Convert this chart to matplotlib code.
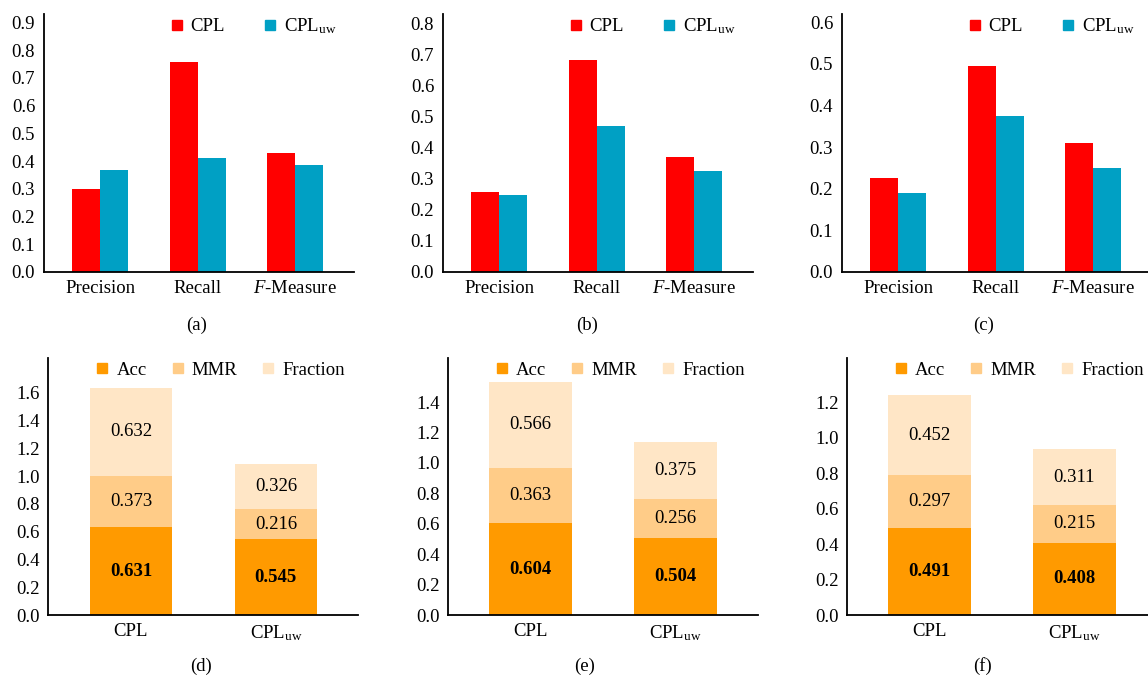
import numpy as np
import matplotlib
matplotlib.use("Agg")
from matplotlib import pyplot as plt
from matplotlib.lines import Line2D

plt.rcParams["font.family"] = ["Liberation Serif", "DejaVu Serif"]
plt.rcParams["mathtext.fontset"] = "custom"
plt.rcParams["mathtext.rm"] = "Liberation Serif"
plt.rcParams["mathtext.it"] = "Liberation Serif:italic"
plt.rcParams["font.size"] = 13.5

# Top row: retrieval metrics per dataset
METRICS = ["Precision", "Recall", "$F$-Measure"]
CPL_A = [0.30, 0.757, 0.428]
CPLUW_A = [0.366, 0.41, 0.386]
CPL_B = [0.256, 0.682, 0.371]
CPLUW_B = [0.248, 0.470, 0.325]
CPL_C = [0.227, 0.496, 0.310]
CPLUW_C = [0.190, 0.376, 0.251]

# Bottom row: stacked scores per method
METHODS = ["CPL", "CPL$_{\\rm uw}$"]
ACC_D = [0.631, 0.545]
MMR_D = [0.373, 0.216]
FRAC_D = [0.632, 0.326]
ACC_E = [0.604, 0.504]
MMR_E = [0.363, 0.256]
FRAC_E = [0.566, 0.375]
ACC_F = [0.491, 0.408]
MMR_F = [0.297, 0.215]
FRAC_F = [0.452, 0.311]

RED = "#FF0000"
CYAN = "#00A0C4"
ACC_C = "#FF9A00"
MMR_C = "#FFCC88"
FRAC_C = "#FFE6C6"

W, H = 1148, 679
fig = plt.figure(figsize=(W / 100, H / 100), dpi=100)


def px_axes(left, top, width, height):
    return fig.add_axes([left / W, 1 - (top + height) / H, width / W, height / H])


def style(ax):
    for s in ["top", "right"]:
        ax.spines[s].set_visible(False)
    for s in ["left", "bottom"]:
        ax.spines[s].set_linewidth(1.3)
    ax.tick_params(length=0, pad=6, labelsize=13.5)
    ax.yaxis.set_major_formatter(matplotlib.ticker.FormatStrFormatter("%.1f"))


def metric_panel(left, cpl, cpluw, ymax, ytop):
    ax = px_axes(left, 14, 310, 258)
    x = np.arange(len(METRICS))
    bw = 0.287
    ax.bar(x - bw / 2, cpl, bw, color=RED)
    ax.bar(x + bw / 2, cpluw, bw, color=CYAN)
    ax.set_xlim(-0.58, 2.6)
    ax.set_ylim(0, ymax)
    ax.set_yticks(np.arange(0, ytop + 0.001, 0.1))
    ax.set_xticks(x)
    ax.set_xticklabels(METRICS)
    style(ax)
    handles = [Line2D([], [], ls="", marker="s", ms=7, color=RED),
               Line2D([], [], ls="", marker="s", ms=7, color=CYAN)]
    ax.legend(handles, ["CPL", "CPL$_{\\rm uw}$"], ncol=2, frameon=False,
              loc="center left", bbox_to_anchor=(0.375, 0.953), borderpad=0,
              handlelength=0.8, handletextpad=0.35, columnspacing=2.0,
              fontsize=13.5)
    return ax


def stack_panel(left, acc, mmr, frac, ymax, ytop):
    ax = px_axes(left, 358, 310, 257)
    x = np.arange(len(METHODS))
    bw = 0.57
    acc = np.array(acc)
    mmr = np.array(mmr)
    frac = np.array(frac)
    ax.bar(x, acc, bw, color=ACC_C)
    ax.bar(x, mmr, bw, bottom=acc, color=MMR_C)
    ax.bar(x, frac, bw, bottom=acc + mmr, color=FRAC_C)
    for i in x:
        ax.text(i, acc[i] / 2, f"{acc[i]:.3f}", ha="center", va="center",
                fontweight="bold", fontsize=13.5)
        ax.text(i, acc[i] + mmr[i] / 2, f"{mmr[i]:.3f}", ha="center",
                va="center", fontsize=13.5)
        ax.text(i, acc[i] + mmr[i] + frac[i] / 2, f"{frac[i]:.3f}",
                ha="center", va="center", fontsize=13.5)
    ax.set_xlim(-0.57, 1.57)
    ax.set_ylim(0, ymax)
    ax.set_yticks(np.arange(0, ytop + 0.001, 0.2))
    ax.set_xticks(x)
    ax.set_xticklabels(METHODS)
    style(ax)
    handles = [Line2D([], [], ls="", marker="s", ms=7, color=c)
               for c in (ACC_C, MMR_C, FRAC_C)]
    ax.legend(handles, ["Acc", "MMR", "Fraction"], ncol=3, frameon=False,
              loc="center left", bbox_to_anchor=(0.12, 0.953), borderpad=0,
              handlelength=0.8, handletextpad=0.35, columnspacing=1.25,
              fontsize=13.5)
    return ax


metric_panel(43.5, CPL_A, CPLUW_A, 0.93, 0.9)
metric_panel(442.5, CPL_B, CPLUW_B, 0.83, 0.8)
metric_panel(841.5, CPL_C, CPLUW_C, 0.62, 0.6)

stack_panel(48.4, ACC_D, MMR_D, FRAC_D, 1.85, 1.6)
stack_panel(448, ACC_E, MMR_E, FRAC_E, 1.69, 1.4)
stack_panel(847, ACC_F, MMR_F, FRAC_F, 1.45, 1.2)

# panel captions
for label, cx, cy in [("(a)", 197, 325), ("(b)", 587, 325), ("(c)", 984, 325),
                      ("(d)", 201, 666), ("(e)", 585, 666), ("(f)", 983, 666)]:
    fig.text(cx / W, 1 - cy / H, label, ha="center", va="center", fontsize=13.5)

fig.savefig("out.png", dpi=100)
